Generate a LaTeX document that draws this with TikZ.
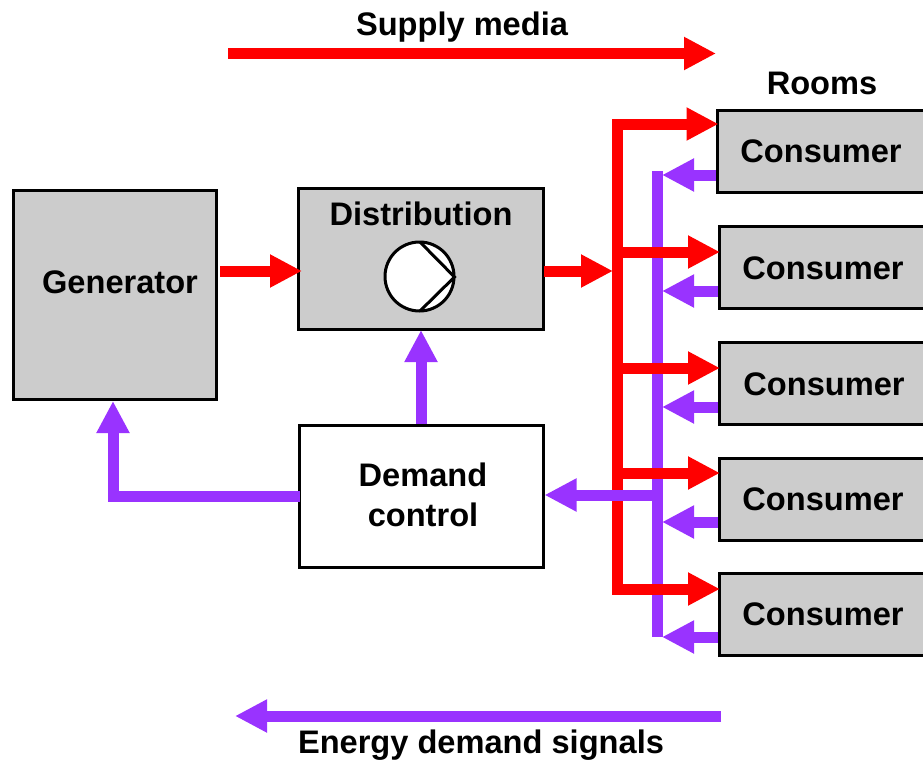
\documentclass[tikz,border=0pt]{standalone}
\usepackage{fontspec}
\setmainfont{Liberation Sans}
\usetikzlibrary{arrows.meta,calc}
\definecolor{supplyred}{HTML}{FF0000}
\definecolor{signalpurple}{HTML}{9933FF}
\definecolor{boxgray}{HTML}{CCCCCC}
\tikzset{
  graybox/.style={draw=black,line width=3pt,fill=boxgray,inner sep=0pt,outer sep=0pt},
  whitebox/.style={draw=black,line width=3pt,fill=white,inner sep=0pt,outer sep=0pt},
  txt/.style={font=\fontsize{32.6}{40}\selectfont\bfseries,inner sep=0pt,anchor=base,align=center},
  redarrow/.style={draw=supplyred,line width=11pt,shorten >=-1pt,-{Triangle[length=32pt,width=31pt]}},
  purplearrow/.style={draw=signalpurple,line width=11pt,shorten >=-1pt,-{Triangle[length=32pt,width=31pt]}},
  redline/.style={draw=supplyred,line width=11pt,line join=miter},
  purpleline/.style={draw=signalpurple,line width=11pt},
  pumpline/.style={draw=black,line width=3pt}
}
\begin{document}
\begin{tikzpicture}[x=1pt,y=-1pt]
\useasboundingbox (0,0) rectangle (923,760);
% boxes
\node[graybox,minimum width=203pt,minimum height=209pt] (gen) at (115,295) {};
\node[graybox,minimum width=245pt,minimum height=141pt] (dist) at (421,259) {};
\node[whitebox,minimum width=244pt,minimum height=142pt] (dem) at (421.5,496) {};
\node[graybox,minimum width=220pt,minimum height=82pt] (c1) at (827.5,151) {};
\node[graybox,minimum width=220pt,minimum height=82pt] (c2) at (829,267.5) {};
\node[graybox,minimum width=220pt,minimum height=82pt] (c3) at (829,383.5) {};
\node[graybox,minimum width=220pt,minimum height=82pt] (c4) at (829,499.5) {};
\node[graybox,minimum width=220pt,minimum height=82pt] (c5) at (829,614.5) {};
% labels
\node[txt] (lsupply) at (462,36) {Supply media};
\node[txt] (lrooms) at (822,94) {Rooms};
\node[txt] (lenergy) at (481,753) {Energy demand signals};
\node[txt] (lgen) at (120,293) {Generator};
\node[txt] (ldist) at (421,225) {Distribution};
\node[txt] (ldem) at (423,486) {Demand};
\node[txt] (lctl) at (423,526) {control};
\node[txt] (lc1) at (821,162) {Consumer};
\node[txt] (lc2) at (823,279) {Consumer};
\node[txt] (lc3) at (824,395) {Consumer};
\node[txt] (lc4) at (823,510) {Consumer};
\node[txt] (lc5) at (823,625) {Consumer};
% pump
\node[draw=black,line width=3pt,fill=white,circle,minimum size=69pt,inner sep=0pt,outer sep=0pt] (pump) at (419.5,276.5) {};
\coordinate (ptop) at (420,242);
\coordinate (ptip) at (454.5,277);
\coordinate (pbot) at (420,311);
\draw[pumpline] (ptop) -- (ptip) -- (pbot);
% coordinates
\coordinate (stopa) at (228,53.5);
\coordinate (stopb) at (715,53.5);
\coordinate (etopa) at (721,716);
\coordinate (etopb) at (236,716);
\coordinate (r0) at (617.5,119);
\coordinate (r1) at (617.5,124);
\coordinate (r2) at (617.5,252);
\coordinate (r3) at (617.5,368);
\coordinate (r4) at (617.5,473);
\coordinate (r5) at (617.5,589);
\coordinate (p0) at (657,171);
\coordinate (p1) at (663,175);
\coordinate (p2) at (663,291);
\coordinate (p3) at (663,407);
\coordinate (p4) at (663,522);
\coordinate (p5) at (663,637);
\coordinate (pb) at (657,637);
\coordinate (pd) at (657,495);
\coordinate (gin) at (220,271);
\coordinate (din) at (301,271);
\coordinate (dout) at (544,271);
\coordinate (bus) at (612,271);
\coordinate (gbot) at (113,402);
\coordinate (dup) at (421,424);
\coordinate (dupt) at (421,331);
% media arrows
\draw[redarrow] (stopa) -- (stopb);
\draw[purplearrow] (etopa) -- (etopb);
% red trunk, then purple, then red branches
\draw[redline] ($(r0)+(0,0)$) -- ($(r5)+(0,5.5)$);
\draw[purpleline] (p0) -- (pb);
\draw[purplearrow] (pd) -- ($(dem.east |- pd)+(2,0)$);
\draw[purplearrow] ($(c1.west |- p1)+(-1.5,0)$) -- (p1);
\draw[purplearrow] ($(c2.west |- p2)+(-1.5,0)$) -- (p2);
\draw[purplearrow] ($(c3.west |- p3)+(-1.5,0)$) -- (p3);
\draw[purplearrow] ($(c4.west |- p4)+(-1.5,0)$) -- (p4);
\draw[purplearrow] ($(c5.west |- p5)+(-1.5,0)$) -- (p5);
\draw[redarrow] ($(r1)+(-5.5,0)$) -- (c1.west |- r1);
\draw[redarrow] (r2) -- (c2.west |- r2);
\draw[redarrow] (r3) -- (c3.west |- r3);
\draw[redarrow] (r4) -- (c4.west |- r4);
\draw[redarrow] ($(r5)+(-5.5,0)$) -- (c5.west |- r5);
% main flows
\draw[redarrow] (gin) -- (din);
\draw[redarrow] (dout) -- (bus);
\draw[purplearrow] (dup) -- (dupt);
\draw[purplearrow,line join=miter] (dem.west) -| (gbot);
\end{tikzpicture}
\end{document}
